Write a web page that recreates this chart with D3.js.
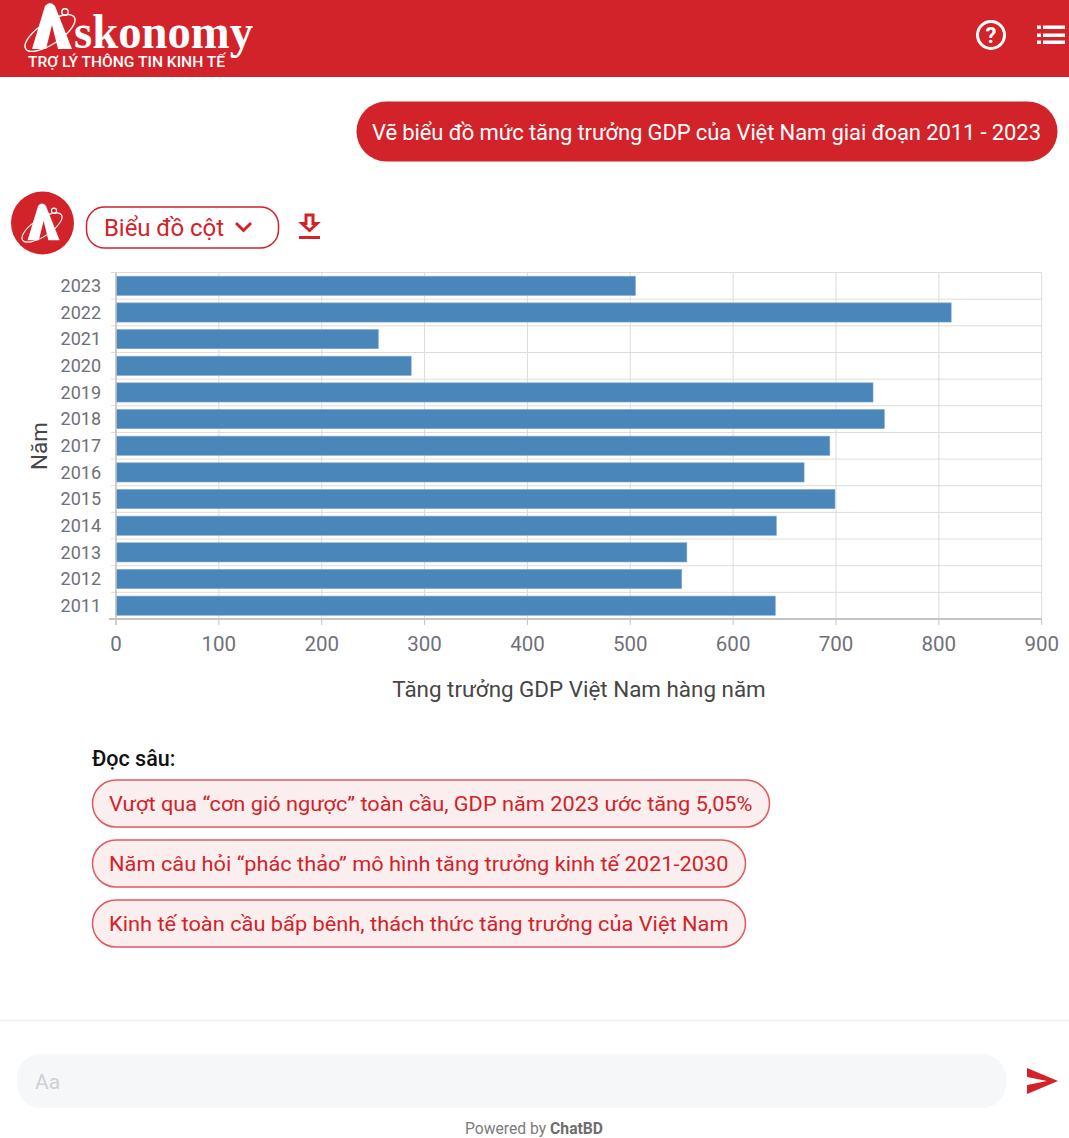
<!DOCTYPE html>
<html>
<head>
<meta charset="utf-8">
<script src="https://cdn.jsdelivr.net/npm/d3@7"></script>
<style>
html, body { margin: 0; padding: 0; background: #fff; overflow: hidden; }
text { font-family: Roboto, sans-serif; }
</style>
</head>
<body>
<div id="chart"></div>
<script>
var years = ["2011","2012","2013","2014","2015","2016","2017","2018","2019","2020","2021","2022","2023"],
	growth = [641,550,555,642,699,669,694,747,736,287,255,812,505],
	xTicks = [0,100,200,300,400,500,600,700,800,900],
	readMore = [
		"Vượt qua “cơn gió ngược” toàn cầu, GDP năm 2023 ước tăng 5,05%",
		"Năm câu hỏi “phác thảo” mô hình tăng trưởng kinh tế 2021-2030",
		"Kinh tế toàn cầu bấp bênh, thách thức tăng trưởng của Việt Nam"
	],
	chipWidths = [678,654,654];

var red = "#d2222a",
	width = 1069,
	height = 1138,
	margin = { top: 272.5, left: 116, right: 27.3, bottom: 519 };

var svg = d3.select("#chart").append("svg")
	.attr("width", width)
	.attr("height", height)
	.style("display", "block");

// header bar
svg.append("rect").attr("width", width).attr("height", 77).attr("fill", red);

function logoMark(g, fg) {
	g.append("ellipse")
		.attr("cx", 0).attr("cy", 30).attr("rx", 29).attr("ry", 11)
		.attr("transform", "rotate(-33 0 30)")
		.attr("fill", "none").attr("stroke", fg).attr("stroke-width", 1.4);
	g.append("path")
		.attr("d", "M-5,3 Q0,-3 5,3 L22,46 L8,46 L2,22 L-4,46 L-18,46 Q-12,26 -5,3 Z")
		.attr("fill", fg);
	g.append("circle")
		.attr("cx", 15).attr("cy", 9).attr("r", 3.2)
		.attr("fill", "none").attr("stroke", fg).attr("stroke-width", 1.4);
}

logoMark(svg.append("g").attr("transform", "translate(50,3)"), "#fff");

svg.append("text")
	.attr("x", 74).attr("y", 48)
	.attr("fill", "#fff")
	.style("font-family", "'Liberation Serif', serif")
	.style("font-weight", "700")
	.style("font-size", "48px")
	.attr("textLength", 179)
	.attr("lengthAdjust", "spacingAndGlyphs")
	.text("skonomy");

svg.append("text")
	.attr("x", 28).attr("y", 67)
	.attr("fill", "#fff")
	.style("font-weight", "500")
	.style("font-size", "15.5px")
	.attr("textLength", 197)
	.attr("lengthAdjust", "spacingAndGlyphs")
	.text("TRỢ LÝ THÔNG TIN KINH TẾ");

// help icon
svg.append("circle")
	.attr("cx", 991).attr("cy", 35).attr("r", 13.5)
	.attr("fill", "none").attr("stroke", "#fff").attr("stroke-width", 3);
svg.append("text")
	.attr("x", 991).attr("y", 43)
	.attr("text-anchor", "middle")
	.attr("fill", "#fff")
	.style("font-weight", "700")
	.style("font-size", "22px")
	.text("?");

// menu icon
[27,35,42].forEach(function(y) {
	svg.append("rect").attr("x", 1037).attr("y", y - 1.5).attr("width", 4).attr("height", 3.5).attr("fill", "#fff");
	svg.append("rect").attr("x", 1043).attr("y", y - 1.5).attr("width", 22).attr("height", 3.5).attr("fill", "#fff");
});

// user message
svg.append("rect")
	.attr("x", 356.5).attr("y", 101.5).attr("width", 701).attr("height", 60).attr("rx", 30)
	.attr("fill", red);
svg.append("text")
	.attr("x", 372).attr("y", 139.5)
	.attr("fill", "#fff")
	.style("font-size", "22px")
	.attr("textLength", 669)
	.text("Vẽ biểu đồ mức tăng trưởng GDP của Việt Nam giai đoạn 2011 - 2023");

// avatar
svg.append("circle").attr("cx", 42.5).attr("cy", 223).attr("r", 31.5).attr("fill", red);
logoMark(svg.append("g").attr("transform", "translate(42,203.5) scale(0.8)"), "#fff");

// chart type button
svg.append("rect")
	.attr("x", 86.5).attr("y", 207).attr("width", 192).attr("height", 41).attr("rx", 18)
	.attr("fill", "#fff").attr("stroke", red).attr("stroke-width", 1.5);
svg.append("text")
	.attr("x", 104).attr("y", 236)
	.attr("fill", red)
	.style("font-size", "24px")
	.attr("textLength", 120)
	.text("Biểu đồ cột");
svg.append("path")
	.attr("d", "M236,223 L243.5,230.5 L251,223")
	.attr("fill", "none").attr("stroke", red).attr("stroke-width", 3);

// download icon
svg.append("path")
	.attr("d", "M306,215 H313 V223.5 H317 L309.5,230.5 L302,223.5 H306 Z")
	.attr("fill", "none").attr("stroke", red).attr("stroke-width", 3);
svg.append("rect").attr("x", 299).attr("y", 236).attr("width", 21).attr("height", 3).attr("fill", red);

// chart
var innerRight = width - margin.right,
	innerBottom = height - margin.bottom;

var x = d3.scaleLinear().domain([0, 900]).range([margin.left, innerRight]);
var y = d3.scaleBand().domain(years).range([innerBottom, margin.top]).paddingInner(0.28).paddingOuter(0.14);
var yLines = d3.scaleBand().domain(years).range([innerBottom, margin.top]);

var plot = svg.append("g");

plot.selectAll(".vgrid")
	.data(xTicks)
	.enter().append("line")
	.attr("class", "vgrid")
	.attr("x1", function(d) { return x(d); })
	.attr("x2", function(d) { return x(d); })
	.attr("y1", margin.top)
	.attr("y2", innerBottom)
	.attr("stroke", "#dcdcdc");

plot.selectAll(".hgrid")
	.data(years)
	.enter().append("line")
	.attr("class", "hgrid")
	.attr("x1", margin.left - 5)
	.attr("x2", innerRight)
	.attr("y1", function(d) { return yLines(d); })
	.attr("y2", function(d) { return yLines(d); })
	.attr("stroke", "#dcdcdc");

plot.selectAll(".bar")
	.data(years)
	.enter().append("rect")
	.attr("class", "bar")
	.attr("x", margin.left)
	.attr("y", function(d) { return y(d); })
	.attr("width", function(d, i) { return x(growth[i]) - margin.left; })
	.attr("height", y.bandwidth())
	.attr("fill", "#4a86ba")
	.attr("stroke", "#7ea8cf")
	.attr("stroke-width", 0.6);

// y axis labels
plot.selectAll(".yLabel")
	.data(years)
	.enter().append("text")
	.attr("class", "yLabel")
	.attr("x", 101)
	.attr("y", function(d) { return yLines(d) + yLines.bandwidth() / 2 + 6.2; })
	.attr("text-anchor", "end")
	.attr("fill", "#6e7079")
	.style("font-size", "18px")
	.text(function(d) { return d; });

// axis lines
plot.append("line")
	.attr("x1", margin.left).attr("x2", margin.left)
	.attr("y1", margin.top).attr("y2", innerBottom + 6)
	.attr("stroke", "#c4c4c4").attr("stroke-width", 1.5);
plot.append("line")
	.attr("x1", margin.left - 7).attr("x2", innerRight)
	.attr("y1", innerBottom).attr("y2", innerBottom)
	.attr("stroke", "#c4c4c4").attr("stroke-width", 2);

plot.selectAll(".xTick")
	.data(xTicks)
	.enter().append("line")
	.attr("class", "xTick")
	.attr("x1", function(d) { return x(d); })
	.attr("x2", function(d) { return x(d); })
	.attr("y1", innerBottom)
	.attr("y2", innerBottom + 6)
	.attr("stroke", "#c4c4c4");

plot.selectAll(".xLabel")
	.data(xTicks)
	.enter().append("text")
	.attr("class", "xLabel")
	.attr("x", function(d) { return x(d); })
	.attr("y", 651)
	.attr("text-anchor", "middle")
	.attr("fill", "#6e7079")
	.style("font-size", "20.5px")
	.text(function(d) { return d; });

svg.append("text")
	.attr("x", 579).attr("y", 697)
	.attr("text-anchor", "middle")
	.attr("fill", "#464646")
	.style("font-size", "22.4px")
	.text("Tăng trưởng GDP Việt Nam hàng năm");

svg.append("text")
	.attr("transform", "translate(46.5,446) rotate(-90)")
	.attr("text-anchor", "middle")
	.attr("fill", "#464646")
	.style("font-size", "22.4px")
	.text("Năm");

// read more
svg.append("text")
	.attr("x", 92).attr("y", 766)
	.attr("fill", "#111")
	.style("font-weight", "500")
	.style("font-size", "21.5px")
	.text("Đọc sâu:");

var chips = svg.selectAll(".chip")
	.data(readMore)
	.enter().append("g")
	.attr("class", "chip")
	.attr("transform", function(d, i) { return "translate(92.5," + (780 + i * 60) + ")"; });

chips.append("rect")
	.attr("width", function(d, i) { return chipWidths[i] - 1; })
	.attr("height", 47)
	.attr("rx", 23.5)
	.attr("fill", "#fbeeee")
	.attr("stroke", "#e2595f")
	.attr("stroke-width", 1.5);

chips.append("text")
	.attr("x", 16.5)
	.attr("y", 31)
	.attr("fill", red)
	.style("font-size", "21px")
	.attr("textLength", function(d, i) { return chipWidths[i] - 34.5; })
	.attr("lengthAdjust", "spacingAndGlyphs")
	.text(function(d) { return d; });

// footer
svg.append("line")
	.attr("x1", 0).attr("x2", width)
	.attr("y1", 1020.5).attr("y2", 1020.5)
	.attr("stroke", "#eeeeef").attr("stroke-width", 1.5);

svg.append("rect")
	.attr("x", 17).attr("y", 1054).attr("width", 989).attr("height", 54).attr("rx", 24)
	.attr("fill", "#f6f7f9");
svg.append("text")
	.attr("x", 35).attr("y", 1089)
	.attr("fill", "#ced0d4")
	.style("font-size", "21px")
	.text("Aa");

svg.append("path")
	.attr("d", "M1027,1068 L1058,1081 L1027,1094 L1027,1085 L1047,1081 L1027,1077 Z")
	.attr("fill", red);

var powered = svg.append("text")
	.attr("x", 534).attr("y", 1134)
	.attr("text-anchor", "middle")
	.attr("fill", "#7b7b7b")
	.style("font-size", "15.7px");
powered.append("tspan").text("Powered by ");
powered.append("tspan").style("font-weight", "700").attr("fill", "#6e6e6e").text("ChatBD");
</script>
</body>
</html>
